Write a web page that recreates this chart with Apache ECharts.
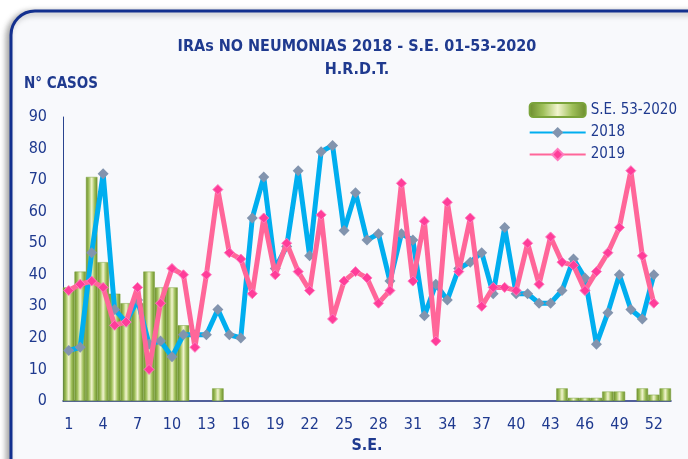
<!DOCTYPE html>
<html>
<head>
<meta charset="utf-8">
<script src="https://cdn.jsdelivr.net/npm/echarts@6/dist/echarts.min.js"></script>
<style>
html,body{margin:0;padding:0;background:#ffffff;}
#chart{width:688px;height:459px;}
</style>
</head>
<body>
<div id="chart"></div>
<script>
// Data
const weeks = [];
for (let i = 1; i <= 53; i++) weeks.push(String(i));

const se2020 = [36,41,71,44,34,31,31,41,36,36,24,null,null,4,
  null,null,null,null,null,null,null,null,null,null,null,null,null,null,null,null,
  null,null,null,null,null,null,null,null,null,null,null,null,null,
  4,1,1,1,3,3,null,4,2,4];

const y2018 = [16,17,47,72,29,25,32,18,19,14,21,21,21,29,21,20,58,71,42,49,
  73,46,79,81,54,66,51,53,38,53,51,27,37,32,42,44,47,34,55,34,
  34,31,31,35,45,39,18,28,40,29,26,40,null];

const y2019 = [35,37,38,36,24,25,36,10,31,42,40,17,40,67,47,45,34,58,40,50,
  41,35,59,26,38,41,39,31,35,69,38,57,19,63,41,58,30,36,36,35,
  50,37,52,44,43,35,41,47,55,73,46,31,null];

const titleText = 'IRAs NO NEUMONIAS 2018 - S.E. 01-53-2020';
const subText = 'H.R.D.T.';
const yName = 'N° CASOS';
const xName = 'S.E.';

const FONT = "'Liberation Sans Narrow','DejaVu Sans Condensed',sans-serif";
const NAVY = '#1F3A8F';

const chart = echarts.init(document.getElementById('chart'), null, {renderer:'canvas'});
const barGrad = new echarts.graphic.LinearGradient(0,0,1,0,[
  {offset:0,color:'#6a8a2c'},
  {offset:0.25,color:'#9fc05a'},
  {offset:0.5,color:'#f2f4cf'},
  {offset:0.75,color:'#9fc05a'},
  {offset:1,color:'#6a8a2c'}
]);

chart.setOption({
  backgroundColor:'#ffffff',
  animation:false,
  graphic:{elements:[{
    type:'rect', z:-10, silent:true,
    shape:{x:11,y:11,width:720,height:480,r:24},
    style:{fill:'#F8F9FC',stroke:'#13308F',lineWidth:3,
      shadowBlur:6,shadowColor:'rgba(0,0,0,0.35)',shadowOffsetX:-3,shadowOffsetY:2}
  }]},
  title:[
    {text:titleText,left:352,top:34,textAlign:'center',
      textStyle:{fontFamily:FONT,fontSize:16,fontWeight:'bold',color:NAVY}},
    {text:subText,left:352,top:57,textAlign:'center',
      textStyle:{fontFamily:FONT,fontSize:16,fontWeight:'bold',color:NAVY}},
    {text:yName,left:19,top:72,
      textStyle:{fontFamily:FONT,fontSize:15,fontWeight:'bold',color:NAVY}}
  ],
  legend:{
    orient:'vertical', right:6, top:97, itemWidth:56, itemHeight:14, itemGap:7,
    textStyle:{fontFamily:FONT,fontSize:15,color:NAVY},
    data:['S.E. 53-2020','2018','2019']
  },
  grid:{left:63,right:17,top:117,bottom:58},
  xAxis:{
    type:'category', data:weeks, boundaryGap:true,
    name:xName, nameLocation:'middle', nameGap:36,
    nameTextStyle:{fontFamily:FONT,fontSize:16,fontWeight:'bold',color:NAVY},
    axisLine:{lineStyle:{color:'#1A2D7A',width:1.5}},
    axisTick:{show:false},
    axisLabel:{interval:2,margin:16,fontFamily:FONT,fontSize:16,color:NAVY}
  },
  yAxis:{
    type:'value', min:0, max:90, interval:10,
    axisLine:{show:true,lineStyle:{color:'#2A448F',width:1}},
    axisTick:{show:false},
    splitLine:{show:false},
    axisLabel:{margin:16,fontFamily:FONT,fontSize:16,color:NAVY}
  },
  series:[
    {name:'S.E. 53-2020', type:'bar', data:se2020, barCategoryGap:'0%', z:1,
      itemStyle:{color:barGrad,borderColor:'#7aa33a',borderWidth:0.5}},
    {name:'2018', type:'line', data:y2018, z:3,
      lineStyle:{color:'#00AEEF',width:5},
      itemStyle:{color:'#8294AE'},
      symbol:'diamond', symbolSize:11, showAllSymbol:true},
    {name:'2019', type:'line', data:y2019, z:4,
      lineStyle:{color:'#FF6699',width:5},
      itemStyle:{color:'#FF3D99',borderColor:'#FF7ABF',borderWidth:1},
      symbol:'diamond', symbolSize:10, showAllSymbol:true}
  ]
});
</script>
</body>
</html>
